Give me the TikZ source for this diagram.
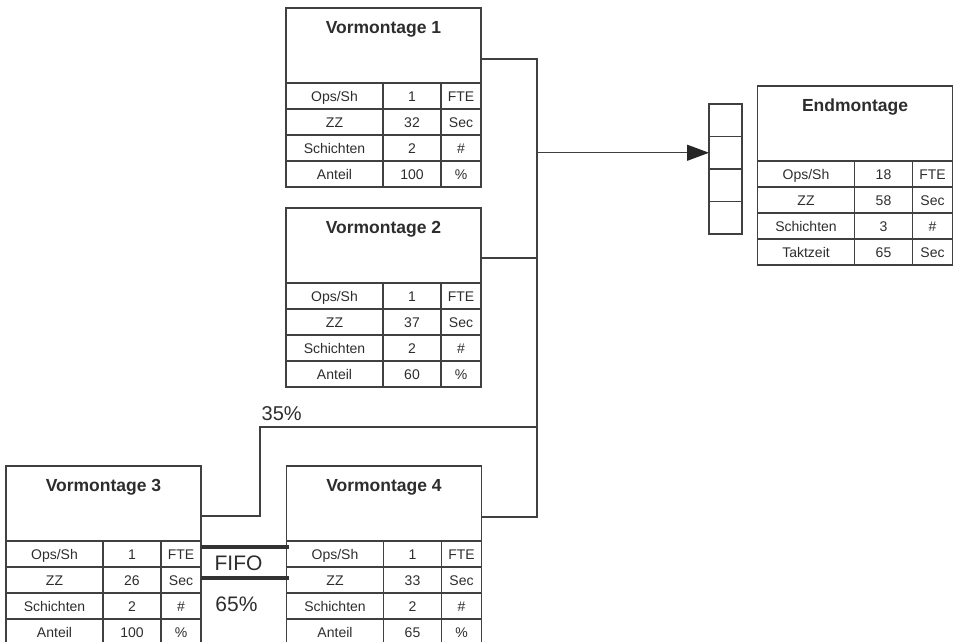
\documentclass[tikz,border=0pt]{standalone}
\usepackage{fontspec}
\setmainfont{Liberation Sans}
\usetikzlibrary{calc,arrows.meta}
\definecolor{ln}{RGB}{64,64,64}
\definecolor{tx}{RGB}{45,45,45}
\tikzset{
  box/.style={draw=ln, line width=1.3pt, inner sep=0pt, outer sep=0pt, anchor=north west},
  head/.style={box, minimum width=195pt, minimum height=75pt},
  cella/.style={box, minimum width=97pt, minimum height=26pt, text height=10pt, text depth=0pt,
    font=\fontsize{14}{16}\selectfont, text=tx},
  cellb/.style={cella, minimum width=58pt},
  cellc/.style={cella, minimum width=40pt},
  bufcell/.style={box, minimum width=33pt, minimum height=32.5pt},
  title/.style={font=\bfseries\fontsize{17.5}{20}\selectfont, text=tx, anchor=base, inner sep=0pt},
  conn/.style={draw=ln, line width=1.3pt},
  fifoline/.style={draw=black!80, line width=3.3pt},
  bigtext/.style={font=\fontsize{21}{24}\selectfont, text=tx, inner sep=0pt},
}
\newcommand\station[3]{%
  \node[head] (#1) at #2 {};
  \node[title] (#1-t) at ($(#1.north)+(0,25)$) {#3};
}
\newcommand\srow[5]{%
  \node[cella] (#1-#2a) at ($(#1.south west)+(0,{26*(#2-1)})$) {#3};
  \node[cellb] (#1-#2b) at (#1-#2a.north east) {#4};
  \node[cellc] (#1-#2c) at (#1-#2b.north east) {#5};
}
\begin{document}
\begin{tikzpicture}[x=1pt,y=-1pt]
\useasboundingbox (0,0) rectangle (954,641);

% Vormontage 1
\station{V1}{(286,8)}{Vormontage 1}
\srow{V1}{1}{Ops/Sh}{1}{FTE}
\srow{V1}{2}{ZZ}{32}{Sec}
\srow{V1}{3}{Schichten}{2}{\#}
\srow{V1}{4}{Anteil}{100}{\%}

% Vormontage 2
\station{V2}{(286,208)}{Vormontage 2}
\srow{V2}{1}{Ops/Sh}{1}{FTE}
\srow{V2}{2}{ZZ}{37}{Sec}
\srow{V2}{3}{Schichten}{2}{\#}
\srow{V2}{4}{Anteil}{60}{\%}

% Vormontage 3
\station{V3}{(6,466)}{Vormontage 3}
\srow{V3}{1}{Ops/Sh}{1}{FTE}
\srow{V3}{2}{ZZ}{26}{Sec}
\srow{V3}{3}{Schichten}{2}{\#}
\srow{V3}{4}{Anteil}{100}{\%}

% Vormontage 4
\station{V4}{(286.5,466)}{Vormontage 4}
\srow{V4}{1}{Ops/Sh}{1}{FTE}
\srow{V4}{2}{ZZ}{33}{Sec}
\srow{V4}{3}{Schichten}{2}{\#}
\srow{V4}{4}{Anteil}{65}{\%}

% Endmontage
\station{EM}{(757.5,86)}{Endmontage}
\srow{EM}{1}{Ops/Sh}{18}{FTE}
\srow{EM}{2}{ZZ}{58}{Sec}
\srow{EM}{3}{Schichten}{3}{\#}
\srow{EM}{4}{Taktzeit}{65}{Sec}

% Buffer
\node[bufcell] (buf1) at (709,104) {};
\node[bufcell] (buf2) at (buf1.south west) {};
\node[bufcell] (buf3) at (buf2.south west) {};
\node[bufcell] (buf4) at (buf3.south west) {};

% connectors
\coordinate (bus) at (537,0);
\coordinate (V1out) at ($(V1.north east)+(0,51)$);
\coordinate (V2out) at ($(V2.north east)+(0,50)$);
\coordinate (V3out) at ($(V3.north east)+(0,50)$);
\coordinate (V4out) at ($(V4.north east)+(0,51)$);
\coordinate (k35) at (260,427);
\draw[conn] (V1out) -- (V1out -| bus) -- (V4out -| bus) -- (V4out);
\draw[conn] (V2out) -- (V2out -| bus);
\draw[conn] (V3out) -| (k35) -- (k35 -| bus);
\draw[conn, -{Triangle[length=22pt,width=16pt,fill=black!85,color=black!85]}] (buf2.west -| bus) -- (buf2.west);

% FIFO
\coordinate (f1a) at ($(V3.north east)+(0,81)$);
\coordinate (f1b) at ($(V4.north west)+(2,81)$);
\coordinate (f2a) at ($(V3.north east)+(0,112)$);
\coordinate (f2b) at ($(V4.north west)+(2,112)$);
\draw[fifoline] (f1a) -- (f1b);
\draw[fifoline] (f2a) -- (f2b);
\node[bigtext, anchor=base] (fifo) at (238.5,570) {FIFO};
\node[bigtext, anchor=base] (p65) at (236.5,611) {65\%};
\node[bigtext, font=\fontsize{20}{23}\selectfont, anchor=base west] (p35) at (261.5,420) {35\%};
\end{tikzpicture}
\end{document}
